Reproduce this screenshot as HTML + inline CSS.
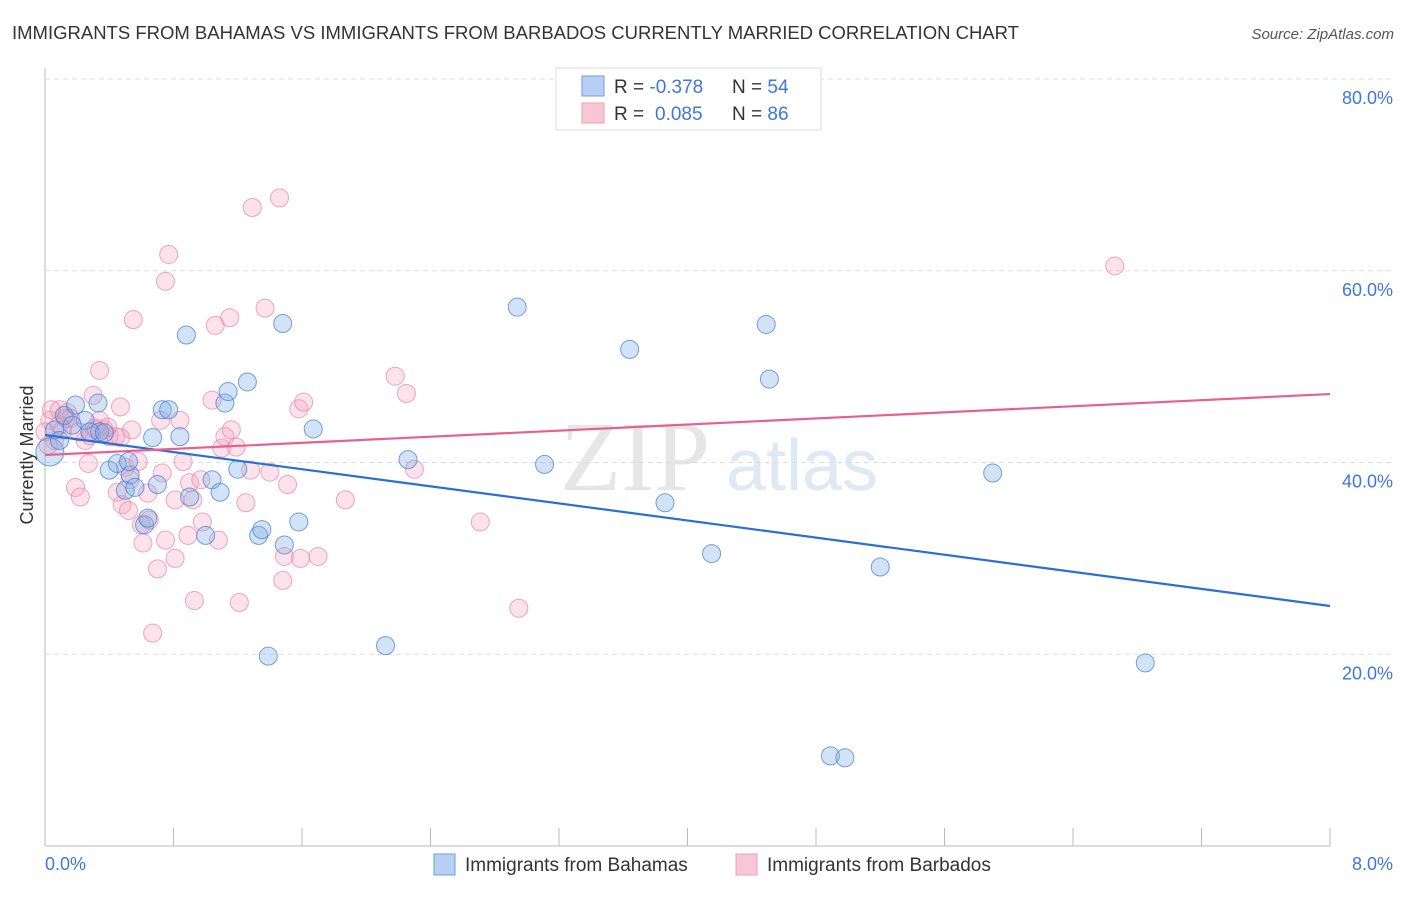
<!DOCTYPE html>
<html><head><meta charset="utf-8"><style>
body{margin:0;background:#fff;font-family:"Liberation Sans",sans-serif;}
</style></head><body>
<svg width="1406" height="892" xmlns="http://www.w3.org/2000/svg" id="chart">
<text x="12" y="39" font-size="18.5" fill="#333">IMMIGRANTS FROM BAHAMAS VS IMMIGRANTS FROM BARBADOS CURRENTLY MARRIED CORRELATION CHART</text>
<text x="1394" y="39" font-size="15" fill="#555" font-style="italic" text-anchor="end">Source: ZipAtlas.com</text>
<text x="635" y="490" font-size="100" fill="#e6e6e6" font-family="Liberation Serif" text-anchor="middle">ZIP</text>
<text x="802" y="490" font-size="72" fill="#dfe8f5" text-anchor="middle">atlas</text>
<text transform="translate(33,455) rotate(-90)" font-size="18" fill="#333" text-anchor="middle">Currently Married</text>
<g id="grid"></g><g id="pts"></g><g id="lines"></g>
<g>
<rect x="556" y="68" width="265" height="62" fill="#fff" stroke="#ddd"/>
<rect x="582" y="76" width="22" height="20" fill="#b7d0f3" stroke="#6f9ee0"/>
<rect x="582" y="103" width="22" height="20" fill="#f9c6d6" stroke="#ee9cb8"/>
<text x="614" y="93" font-size="19" fill="#333">R = <tspan fill="#3d78d8">-0.378</tspan><tspan x="732">N = </tspan><tspan fill="#3d78d8">54</tspan></text>
<text x="614" y="120" font-size="19" fill="#333">R = <tspan x="655" fill="#3d78d8">0.085</tspan><tspan x="732">N = </tspan><tspan fill="#3d78d8">86</tspan></text>
</g>
<g>
<rect x="434" y="854" width="21" height="21" fill="#b7d0f3" stroke="#6f9ee0"/>
<text x="465" y="871" font-size="19" fill="#333">Immigrants from Bahamas</text>
<rect x="736" y="854" width="21" height="21" fill="#f9c6d6" stroke="#ee9cb8"/>
<text x="767" y="871" font-size="19" fill="#333">Immigrants from Barbados</text>
</g>
</svg>
<script>
const yTicks=[20,40,60,80];
const xTickVals=[0,0.8,1.6,2.4,3.2,4,4.8,5.6,6.4,7.2,8];
const blueX=[.03,.06,.12,.19,.25,.33,.34,.40,.45,.50,.53,.56,.62,.64,.67,.70,.73,.77,.84,.88,.90,1.00,1.04,1.09,1.12,1.14,1.20,1.26,1.33,1.35,1.39,1.48,1.49,1.58,1.67,2.12,2.26,2.94,3.11,3.64,3.86,4.15,4.49,4.51,4.89,4.98,5.20,5.90,6.85,.09,.28,.17,.37,.52];
const blueY=[41.1,43.4,44.9,46.0,44.4,46.2,43.2,39.2,39.9,37.1,38.7,37.4,33.5,34.2,42.6,37.7,45.5,45.5,42.7,53.3,36.4,32.4,38.2,36.9,46.2,47.4,39.3,48.4,32.4,33.0,19.8,54.5,31.4,33.8,43.5,20.9,40.3,56.2,39.8,51.8,35.8,30.5,54.4,48.7,9.4,9.2,29.1,38.9,19.1,42.3,43.2,43.9,43.1,40.1];
const pinkX=[.03,.06,.09,.11,.14,.16,.19,.22,.25,.27,.30,.31,.34,.37,.40,.44,.45,.47,.48,.50,.52,.54,.55,.58,.60,.61,.64,.65,.67,.70,.72,.73,.77,.75,.81,.84,.86,.89,.90,.92,.93,.98,1.04,1.06,1.08,1.10,1.12,1.15,1.16,1.19,1.21,1.25,1.29,1.37,1.40,1.46,1.48,1.49,1.51,1.58,1.59,1.61,1.70,1.87,2.18,2.25,2.30,2.71,2.95,6.66,.13,.21,.28,.34,.39,.32,.47,.09,.02,.04,0,.53,.97,1.28,.81,.75];
const pinkY=[44.4,42.3,45.5,43.4,45.2,44.6,37.4,36.4,42.3,39.9,47.0,43.6,49.6,43.4,42.7,42.7,36.9,45.8,35.6,39.5,35.0,43.4,54.9,40.1,33.5,31.6,36.8,34.0,22.2,28.9,44.4,38.9,61.7,58.9,30.0,44.4,40.1,32.4,37.9,36.1,25.6,33.8,46.5,54.3,31.9,41.5,42.7,55.1,43.4,41.6,25.4,35.8,66.6,56.1,39.0,67.6,27.7,30.2,37.7,45.6,30.0,46.3,30.2,36.1,49.0,47.2,39.3,33.8,24.8,60.5,44.6,43.2,42.8,44.4,43.7,43.4,42.6,43.9,41.8,45.5,43.2,38.2,38.2,39.2,36.1,31.9];
const blueTrend=[42.87,25.03];
const pinkTrend=[40.78,47.14];
const NS="http://www.w3.org/2000/svg";
const X=v=>45+v/8*1285, Y=v=>846-v/80*767;
function mk(t,a,p){const e=document.createElementNS(NS,t);for(const k in a)e.setAttribute(k,a[k]);p.appendChild(e);return e;}
const grid=document.getElementById('grid');
mk('line',{x1:45,y1:68,x2:45,y2:846,stroke:'#bbb'},grid);
mk('line',{x1:45,y1:846,x2:1330,y2:846,stroke:'#bbb'},grid);
yTicks.forEach(t=>{
 const l=mk('line',{x1:45,y1:Y(t),x2:1393,y2:Y(t),stroke:'#ddd','stroke-dasharray':'5,4'},grid);
 
 
 const tx=mk('text',{x:1393,y:Y(t)+25,'font-size':18,fill:'#3d78d8','text-anchor':'end'},grid);
 tx.textContent=t.toFixed(1)+'%';
 
 
});
xTickVals.forEach(t=>{
 const l=mk('line',{x1:X(t),y1:828,x2:X(t),y2:846,stroke:'#bbb'},grid);
 
 
});
[[0,45,'start'],[8,1393,'end']].forEach(([v,x,a])=>{
 const tx=mk('text',{x:x,y:870,'font-size':18,fill:'#3d78d8','text-anchor':a},grid);
 tx.textContent=v.toFixed(1)+'%';
 
 
});
const pts=document.getElementById('pts');
pinkX.forEach((x,i)=>{
 const c=mk('circle',{cx:X(x),cy:Y(pinkY[i]),r:9,fill:'rgba(244,160,188,0.3)',stroke:'rgba(232,130,165,0.7)','stroke-width':1},pts);
 
 
});
blueX.forEach((x,i)=>{
 const c=mk('circle',{cx:X(x),cy:Y(blueY[i]),r:i===0?14:9,fill:'rgba(130,175,230,0.35)',stroke:'rgba(70,130,210,0.75)','stroke-width':1},pts);
 
 
});
const lines=document.getElementById('lines');
const bl=mk('line',{x1:X(0),y1:Y(blueTrend[0]),x2:X(8),y2:Y(blueTrend[1]),stroke:'#2a6fd6','stroke-width':2.2},lines);


const pl=mk('line',{x1:X(0),y1:Y(pinkTrend[0]),x2:X(8),y2:Y(pinkTrend[1]),stroke:'#e8608e','stroke-width':2.2},lines);


</script>
</body></html>
